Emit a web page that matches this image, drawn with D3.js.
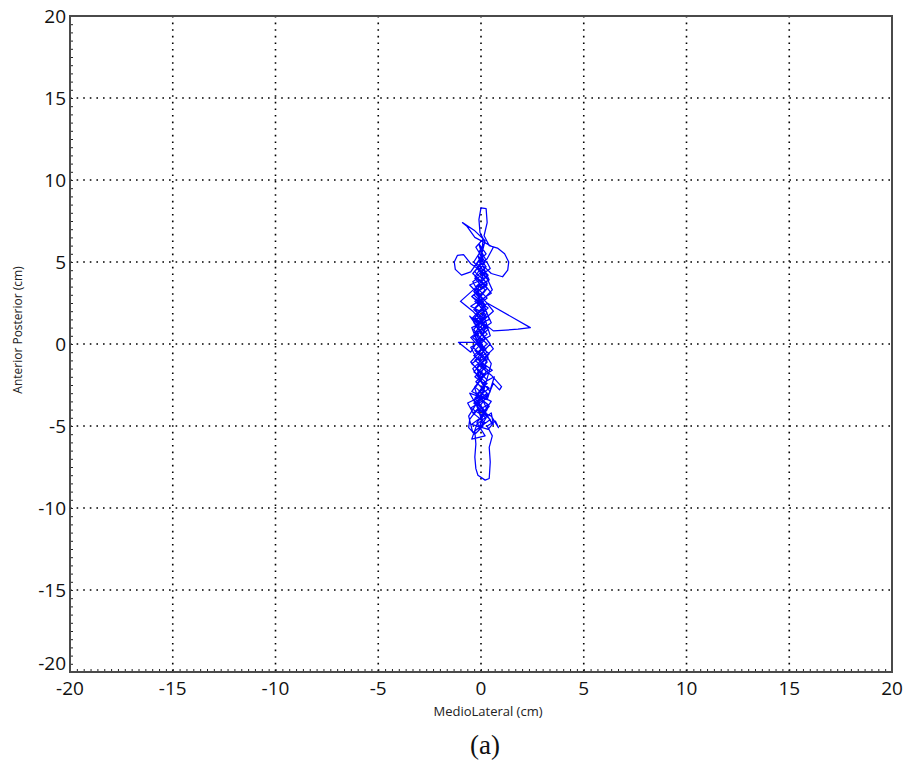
<!DOCTYPE html>
<html>
<head>
<meta charset="utf-8">
<script src="https://d3js.org/d3.v7.min.js"></script>
<style>
  body { margin: 0; background: #fff; }
</style>
</head>
<body>
<svg id="chart" width="908" height="762"></svg>
<script>
// centre-of-pressure path, [medio-lateral, anterior-posterior] in cm
var swayFirst = [[0.0,0.0],[-0.35,0.9],[0.25,1.7],[-0.2,2.6],[0.3,3.4],[-0.3,4.1],[0.15,4.9],[-0.1,5.6],
  [0.2,6.2],[-0.05,6.8],[-0.1,7.6],[0.0,8.3],[0.25,8.25],[0.3,7.4],[0.15,6.6],[0.4,6.0],
  [0.8,5.85],[1.15,5.5],[1.35,5.0],[1.3,4.5],[1.05,4.1],[0.5,4.3],[0.0,4.9],[-0.4,4.3],
  [0.2,3.6],[-0.45,2.9],[0.35,2.2],[-0.3,1.4],[0.3,0.6],[-0.4,-0.2],[0.25,-0.9],[-0.35,-1.7],
  [0.3,-2.4],[-0.25,-3.1],[0.35,-3.7],[-0.4,-4.2],[0.2,-4.8],[-0.3,-5.3],[-0.25,-6.1],[-0.3,-6.9],
  [-0.25,-7.6],[-0.15,-8.0],[0.2,-8.3],[0.4,-8.2],[0.45,-7.2],[0.4,-6.3],[0.55,-5.6],[0.3,-5.0],
  [0.7,-4.7],[0.85,-5.1],[0.5,-4.4],[-0.2,-4.0],[-0.55,-4.6],[-0.6,-5.1],[-0.3,-5.5],[0.1,-5.0]];

var swayMiddle = [[-0.2,-3.6],[0.4,-3.0],[0.6,-2.4],[0.9,-2.8],[1.0,-2.6],[0.5,-1.9],[-0.1,-1.3],[0.4,-0.6],
  [-0.3,0.1],[-1.1,0.1],[-0.5,-0.5],[0.2,0.9],[-0.2,1.8],[0.3,2.5],[2.4,1.0],[1.8,0.9],
  [0.6,0.8],[0.1,1.3],[-0.4,2.0],[-1.0,2.6],[-0.2,3.5],[0.3,4.2],[-0.5,4.9],[-0.85,5.45],
  [-1.15,5.4],[-1.3,5.0],[-1.25,4.55],[-0.95,4.2],[-0.5,4.4],[0.0,5.3],[0.2,6.3],[-0.3,6.9],
  [-0.9,7.4],[-0.7,7.2],[-0.3,6.5],[0.6,5.9],[0.3,5.2],[-0.2,4.6],[0.35,3.9],[-0.35,3.2],
  [0.2,2.4],[-0.4,1.6],[0.35,0.9],[-0.25,0.2],[0.3,-0.5],[-0.45,-1.2],[0.2,-1.9],[-0.3,-2.6],
  [0.3,-3.3],[-0.5,-3.9],[0.25,-4.5],[-0.1,-5.2],[0.15,-4.1],[-0.35,-3.4],[0.4,-2.7],[-0.3,-2.0],
  [0.25,-1.4],[-0.35,-0.7],[0.3,0.0],[-0.3,0.7],[0.25,1.4],[-0.35,2.1],[0.3,2.8],[-0.25,3.5],
  [0.35,4.2],[-0.2,4.9],[0.25,5.5],[-0.1,6.1],[0.1,5.2],[-0.3,4.4],[0.3,3.7],[-0.35,3.0],
  [0.2,2.3],[-0.3,1.6],[0.3,1.0],[-0.4,0.4],[0.25,-0.3],[-0.3,-1.0],[0.35,-1.6],[-0.25,-2.3],
  [0.3,-3.0],[-0.35,-3.6],[0.2,-4.3],[-0.45,-4.9],[0.35,-5.2],[0.55,-4.9],[0.2,-4.1],[-0.3,-3.3]];

var swayLast = [[0.2,-2.6],[-0.2,-1.8],[0.3,-1.1],[-0.3,-0.4],[0.2,0.3],[-0.25,1.1],[0.3,1.9],[-0.3,2.6],
  [0.2,3.3],[-0.3,4.0],[0.25,4.7],[-0.15,5.4],[0.1,4.3],[-0.2,3.1],[0.15,2.0],[-0.2,0.8],
  [0.15,-0.3],[-0.2,-1.5],[0.15,-2.7],[-0.2,-3.8],[0.0,-4.5],[0.1,-4.2],[0.5,-3.5],[-0.45,-2.9],
  [0.05,-2.0],[0.55,-1.6],[-0.2,-0.9],[-0.5,-0.2],[0.45,0.5],[0.1,1.9],[-0.5,2.3],[0.5,3.1],
  [0.0,3.9],[-0.55,3.6],[0.15,2.7],[0.6,2.0],[-0.1,1.2],[-0.55,1.7],[0.2,0.4],[0.6,-0.3],
  [-0.4,-1.5],[0.05,-2.4],[0.65,-2.0],[0.3,-3.4],[-0.55,-3.0],[-0.1,-4.0],[0.45,-4.6],[-0.4,-5.4],
  [-0.6,-4.4],[0.1,-3.0],[0.5,-1.2],[-0.2,0.2],[-0.45,1.0],[0.4,1.5],[0.0,2.9],[-0.4,3.8],
  [0.45,4.6],[0.0,5.7],[-0.35,5.0],[0.3,4.0],[0.55,3.3],[-0.3,2.2],[0.2,1.1],[-0.5,0.4],
  [0.35,-0.8],[-0.1,-2.1],[0.45,-2.9],[-0.35,-4.3],[-0.65,-3.6],[0.0,-3.2],[0.3,-4.0],[-0.2,-4.8],
  [0.2,-5.6],[-0.45,-5.8],[-0.2,-4.9],[0.5,-4.2],[0.6,-4.9],[0.0,-3.9],[-0.3,-2.7],[0.25,-1.7],
  [-0.15,-0.8],[0.45,0.0],[-0.35,1.3],[0.25,2.1],[-0.45,2.9],[0.3,3.6],[-0.1,4.5],[0.2,5.0],
  [-0.25,5.9],[0.1,6.4],[0.0,5.0],[0.4,3.9],[-0.3,3.4],[0.1,2.4],[0.5,1.3],[-0.3,0.6],
  [0.0,-0.4],[-0.5,-1.1],[0.3,-2.2],[-0.2,-3.1],[0.4,-3.8],[0.0,-4.4]];

var axisTicks = [-20, -15, -10, -5, 0, 5, 10, 15, 20];
var gridTicks = [-15, -10, -5, 0, 5, 10, 15];

var svg = d3.select("#chart"),
    margin = {top: 16, right: 16, bottom: 90, left: 70},
    width = +svg.attr("width") - margin.left - margin.right,
    height = +svg.attr("height") - margin.top - margin.bottom;

svg.append("rect").attr("width", 908).attr("height", 762).attr("fill", "#fff");

var g = svg.append("g").attr("transform", "translate(" + margin.left + "," + margin.top + ")");

var x = d3.scaleLinear().domain([-20, 20]).range([0, width]);
var y = d3.scaleLinear().domain([-20, 20]).range([height, 0]);

// dotted grid
g.selectAll(".gx").data(gridTicks).enter().append("line")
    .attr("x1", function(d) { return x(d); })
    .attr("x2", function(d) { return x(d); })
    .attr("y1", 0).attr("y2", height)
    .attr("stroke", "#000").attr("stroke-width", 1.6)
    .attr("stroke-dasharray", "1.6,5");

g.selectAll(".gy").data(gridTicks).enter().append("line")
    .attr("y1", function(d) { return y(d); })
    .attr("y2", function(d) { return y(d); })
    .attr("x1", 0).attr("x2", width)
    .attr("stroke", "#000").attr("stroke-width", 1.6)
    .attr("stroke-dasharray", "1.6,5");

// minor ticks, inward
var xMinor = d3.range(-20, 20.001, 1 / 3);
var yMinor = d3.range(-20, 20.001, 0.5);

g.append("g")
    .attr("transform", "translate(0," + height + ")")
    .call(d3.axisBottom(x).tickValues(xMinor).tickSize(-3).tickFormat(""))
    .call(function(a) { a.select(".domain").remove(); })
    .selectAll("line").attr("stroke", "#222");

g.append("g")
    .call(d3.axisLeft(y).tickValues(yMinor).tickSize(-3).tickFormat(""))
    .call(function(a) { a.select(".domain").remove(); })
    .selectAll("line").attr("stroke", "#222");

// frame
g.append("rect")
    .attr("width", width).attr("height", height)
    .attr("fill", "none").attr("stroke", "#4a4a4a").attr("stroke-width", 2);

// tick labels
g.selectAll(".xl").data(axisTicks).enter().append("text")
    .attr("x", function(d) { return x(d); })
    .attr("y", height + 23)
    .attr("text-anchor", "middle")
    .attr("font-family", "'Open Sans', sans-serif")
    .attr("font-size", 19)
    .attr("fill", "#111")
    .text(function(d) { return d; });

g.selectAll(".yl").data(axisTicks).enter().append("text")
    .attr("x", -4)
    .attr("y", function(d) { return d === -20 ? y(d) - 9 : y(d); })
    .attr("dy", "0.36em")
    .attr("text-anchor", "end")
    .attr("font-family", "'Open Sans', sans-serif")
    .attr("font-size", 19)
    .attr("fill", "#111")
    .text(function(d) { return d; });

// sway path
var pts = swayFirst.concat(swayMiddle, swayLast);

var line = d3.line()
    .x(function(d) { return x(d[0]); })
    .y(function(d) { return y(d[1]); });

g.append("path")
    .datum(pts)
    .attr("fill", "none")
    .attr("stroke", "#0000ff")
    .attr("stroke-width", 1.25)
    .attr("stroke-linejoin", "round")
    .attr("d", line);

// titles
svg.append("text")
    .attr("x", 488).attr("y", 716)
    .attr("text-anchor", "middle")
    .attr("font-family", "'Open Sans', sans-serif")
    .attr("font-size", 13)
    .attr("fill", "#222")
    .text("MedioLateral (cm)");

svg.append("text")
    .attr("transform", "translate(22,330) rotate(-90)")
    .attr("text-anchor", "middle")
    .attr("font-family", "'Open Sans', sans-serif")
    .attr("font-size", 12)
    .attr("fill", "#222")
    .text("Anterior Posterior (cm)");

svg.append("text")
    .attr("x", 485).attr("y", 754)
    .attr("text-anchor", "middle")
    .attr("font-family", "'Liberation Serif', serif")
    .attr("font-size", 27)
    .attr("fill", "#111")
    .text("(a)");
</script>
</body>
</html>
